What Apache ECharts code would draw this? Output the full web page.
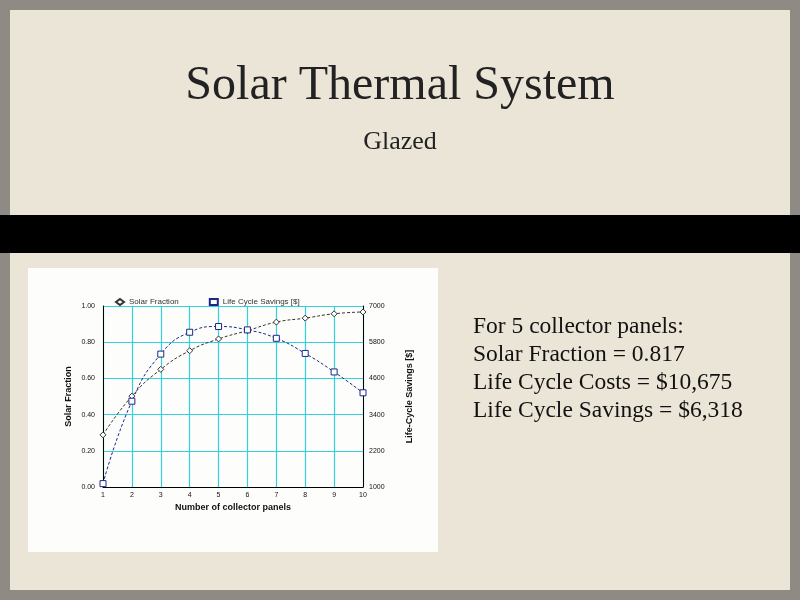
<!DOCTYPE html><html><head><meta charset="utf-8"><script src="https://cdn.jsdelivr.net/npm/echarts@6/dist/echarts.min.js"></script>
<style>html,body{margin:0;padding:0}#c{width:800px;height:600px}</style></head><body><div id="c"></div><script>
const categories=[1,2,3,4,5,6,7,8,9,10];
const solarFraction=[0.288,0.502,0.650,0.753,0.818,0.864,0.911,0.933,0.957,0.967];
const savings=[1112,3844,5405,6130,6320,6208,5929,5427,4814,4123];
const leftTicks=['0.00','0.20','0.40','0.60','0.80','1.00'];
const rightTicks=[1000,2200,3400,4600,5800,7000];
const ch=echarts.init(document.getElementById('c'));
const f='Liberation Sans, Arial, sans-serif';
ch.setOption({
 backgroundColor:'#ebe5d8',
 animation:false,
 title:[{text:'Solar Thermal System',left:'center',top:57,textStyle:{fontFamily:'Liberation Serif',fontSize:48,fontWeight:'normal',color:'#222'}},
        {text:'Glazed',left:'center',top:124,textStyle:{fontFamily:'Liberation Serif',fontSize:26,fontWeight:'normal',color:'#222'}}],
 graphic:[
  {type:'rect',z:-10,shape:{x:0,y:0,width:800,height:600},style:{fill:'none',stroke:'#8f8a84',lineWidth:20}},
  {type:'rect',z:-5,shape:{x:0,y:215,width:800,height:38},style:{fill:'#000'}},
  {type:'rect',z:-5,shape:{x:28,y:268,width:410,height:284},style:{fill:'#fdfdfb'}},
  {type:'text',left:473,top:313,style:{text:'For 5 collector panels:\nSolar Fraction = 0.817\nLife Cycle Costs = $10,675\nLife Cycle Savings = $6,318',font:'23.5px Liberation Serif',fill:'#111',lineHeight:28}}
 ],
 legend:{top:293,left:110,itemGap:30,itemWidth:8,itemHeight:6,textStyle:{fontSize:8,fontFamily:f,color:'#333'},
  data:[{name:'Solar Fraction',icon:'diamond'},{name:'Life Cycle Savings [$]',icon:'rect'}]},
 grid:{left:103,right:437,top:306,bottom:113},
 xAxis:{type:'value',min:1,max:10,interval:1,name:'Number of collector panels',nameLocation:'middle',nameGap:16,
  nameTextStyle:{fontFamily:f,fontSize:9,fontWeight:'bold',color:'#111'},
  axisLine:{lineStyle:{color:'#000'}},axisTick:{show:false},axisLabel:{fontSize:7,color:'#111',margin:5},
  splitLine:{lineStyle:{color:'#33d0e0',width:1.2}}},
 yAxis:[{type:'value',min:0,max:1,interval:0.2,name:'Solar Fraction',nameLocation:'middle',nameGap:30,
  nameTextStyle:{fontFamily:f,fontSize:9,fontWeight:'bold',color:'#111'},
  axisLine:{show:true,lineStyle:{color:'#000'}},axisTick:{show:false},
  axisLabel:{fontSize:7,color:'#111',formatter:(v)=>leftTicks[Math.round(v*5)]},
  splitLine:{lineStyle:{color:'#33d0e0',width:1.2}}},
  {type:'value',min:1000,max:7000,interval:1200,name:'Life-Cycle Savings [$]',nameLocation:'middle',nameGap:42,
  nameTextStyle:{fontFamily:f,fontSize:9,fontWeight:'bold',color:'#111'},
  axisLine:{show:true,lineStyle:{color:'#000'}},axisTick:{show:false},
  axisLabel:{fontSize:7,color:'#111',margin:6,formatter:(v)=>String(rightTicks[Math.round((v-1000)/1200)])},splitLine:{show:false}}],
 series:[
  {name:'Solar Fraction',type:'line',smooth:true,symbol:'diamond',symbolSize:6,data:categories.map((c,i)=>[c,solarFraction[i]]),
   lineStyle:{color:'#333',width:1,type:[3,2]},itemStyle:{color:'#fff',borderColor:'#333',borderWidth:1}},
  {name:'Life Cycle Savings [$]',type:'line',yAxisIndex:1,smooth:true,symbol:'rect',symbolSize:6,data:categories.map((c,i)=>[c,savings[i]]),
   lineStyle:{color:'#1a2a8a',width:1,type:[3,2]},itemStyle:{color:'#fff',borderColor:'#1a2a8a',borderWidth:1}}
 ]
});
</script></body></html>
